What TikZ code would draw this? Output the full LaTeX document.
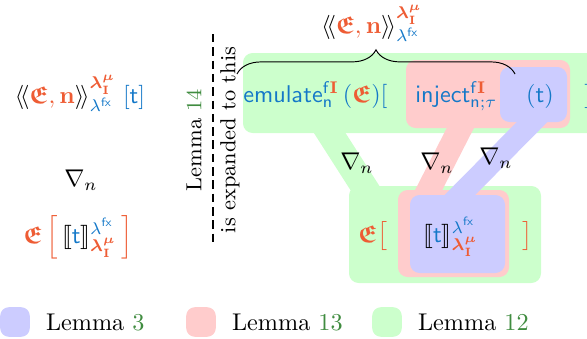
\documentclass[tikz,border=0pt]{standalone}
\usepackage{amsmath}
\usepackage{amssymb}
\usepackage{stmaryrd}
\usepackage{tikz}
\usetikzlibrary{positioning}
\usetikzlibrary{fit}
\usetikzlibrary{decorations.pathreplacing}
\definecolor{hot}{RGB}{238,92,52}
\definecolor{cold}{RGB}{20,120,200}
\definecolor{lemnum}{RGB}{64,140,64}

% pieces of the formulas
\newcommand{\frakE}{\textcolor{hot}{\boldsymbol{\mathfrak{E}}}}
\newcommand{\termt}{\textcolor{cold}{\mathsf{t}}}
\newcommand{\lamI}{\textcolor{hot}{\boldsymbol{\lambda}^{\boldsymbol{\mu}}_{\mathbf{I}}}}
\newcommand{\lamfx}{\textcolor{cold}{\lambda^{\mathsf{fx}}}}
\newcommand{\fI}{\textcolor{cold}{\mathsf{f}}\textcolor{hot}{\mathbf{I}}}

\begin{document}
\begin{tikzpicture}[x=0.4132pt, y=-0.4132pt,
  lbl/.style={inner sep=0pt},
  grnbox/.style={fill=green!20, rounded corners=4pt, inner sep=0pt},
  redbox/.style={fill=red!20, rounded corners=4pt, inner sep=0pt},
  blubox/.style={fill=blue!20, rounded corners=4pt, inner sep=0pt},
  grnband/.style={green!20, line width=11pt},
  redband/.style={red!20, line width=10pt},
  bluband/.style={blue!20, line width=9pt},
  legsq/.style={minimum size=12.2pt, rounded corners=3.5pt, inner sep=0pt},
  legtext/.style={right=3pt of #1}]

\useasboundingbox (0,0) rectangle (587,339);

%---------------------------------------
% Coloured regions (green, then red, then blue on top)
%---------------------------------------
\node[grnbox, fit={(243,53) (600,133)}] (topG) {};
\node[grnbox, fit={(349,186) (541,283)}] (botG) {};
\coordinate (gbandT) at (315,110);
\coordinate (gbandB) at (379,210);
\draw[grnband] (gbandT) -- (gbandB);

\node[redbox, fit={(406,60) (570,128)}] (topR) {};
\node[redbox, fit={(398,190) (509,277)}] (botR) {};
\coordinate (rbandT) at (467,115);
\coordinate (rbandB) at (421,205);
\draw[redband] (rbandT) -- (rbandB);

\node[blubox, fit={(500,67) (567,122)}] (topB) {};
\node[blubox, fit={(410,195) (505,273)}] (botB) {};
\coordinate (bbandT) at (540,114);
\coordinate (bbandB) at (452,203);
\draw[bluband] (bbandT) -- (bbandB);

%---------------------------------------
% Left column
%---------------------------------------
\node[lbl, anchor=base] (lhsTop) at (80,103)
  {$\langle\!\langle \textcolor{hot}{\boldsymbol{\mathfrak{E}}, \mathbf{n}} \rangle\!\rangle^{\lamI}_{\lamfx}\;\textcolor{cold}{[\mathsf{t}]}$};
\node[lbl] (lhsNabla) at (81,180) {$\nabla_n$};
\node[lbl, anchor=base] (lhsBot) at (78,243)
  {$\frakE\,\textcolor{hot}{\left[\,\textcolor{black}{\llbracket}\termt\textcolor{black}{\rrbracket}^{\lamfx}_{\lamI}\,\right]}$};

% ---- dashed separator with its note ----
\coordinate (dashT) at (213,34);
\coordinate (dashB) at (213,245);
\node[rotate=90, align=center, inner sep=0pt, font=\small] (note) at (213,140)
  {Lemma \textcolor{lemnum}{14}\\[3pt] is expanded to this};
\draw[line width=0.8pt, dash pattern=on 3.5pt off 2pt] (dashT) -- (dashB);

%---------------------------------------
% Expanded term
%---------------------------------------
\node[lbl, anchor=base west] (emul) at (243,102)
  {$\textcolor{cold}{\mathsf{emulate}}^{\fI}_{\textcolor{cold}{\mathsf{n}}}\,\textcolor{cold}{(}\frakE\textcolor{cold}{)[}$};
\node[lbl, anchor=base west] (inj) at (415,102)
  {$\textcolor{cold}{\mathsf{inject}}^{\fI}_{\textcolor{cold}{\mathsf{n};\tau}}$};
\node[lbl, anchor=base] (arg) at (540,102) {$\textcolor{cold}{(\mathsf{t})}$};
\node[lbl, anchor=base west] (close) at (584,102) {$\textcolor{cold}{]}$};

% brace over the top row
\coordinate (braceL) at (237,74);
\coordinate (braceR) at (515,74);
\draw[decorate, decoration={brace, amplitude=10pt}] (braceL) -- (braceR);
\node[lbl, anchor=base] (braceLbl) at (372,33)
  {$\langle\!\langle \textcolor{hot}{\boldsymbol{\mathfrak{E}}, \mathbf{n}} \rangle\!\rangle^{\lamI}_{\lamfx}$};

% gradients along the bands
\node[lbl] (gradG) at (357,163) {$\nabla_n$};
\node[lbl] (gradR) at (437,163) {$\nabla_n$};
\node[lbl] (gradB) at (496,158) {$\nabla_n$};

% bottom row
\node[lbl, anchor=base west] (outer) at (358,242) {$\frakE\textcolor{hot}{\bigl[}$};
\node[lbl, anchor=base west] (sem) at (423,242)
  {$\llbracket\termt\rrbracket^{\lamfx}_{\lamI}$};
\node[lbl, anchor=base west] (outerR) at (522,242) {$\textcolor{hot}{\bigr]}$};

%---------------------------------------
% Legend
%---------------------------------------
\node[legsq, fill=blue!20] (legB) at (15,322) {};
\node[legtext=legB] (legBtxt) {Lemma \textcolor{lemnum}{3}};
\node[legsq, fill=red!20] (legR) at (201,322) {};
\node[legtext=legR] (legRtxt) {Lemma \textcolor{lemnum}{13}};
\node[legsq, fill=green!20] (legG) at (387,322) {};
\node[legtext=legG] (legGtxt) {Lemma \textcolor{lemnum}{12}};

\end{tikzpicture}
\end{document}
